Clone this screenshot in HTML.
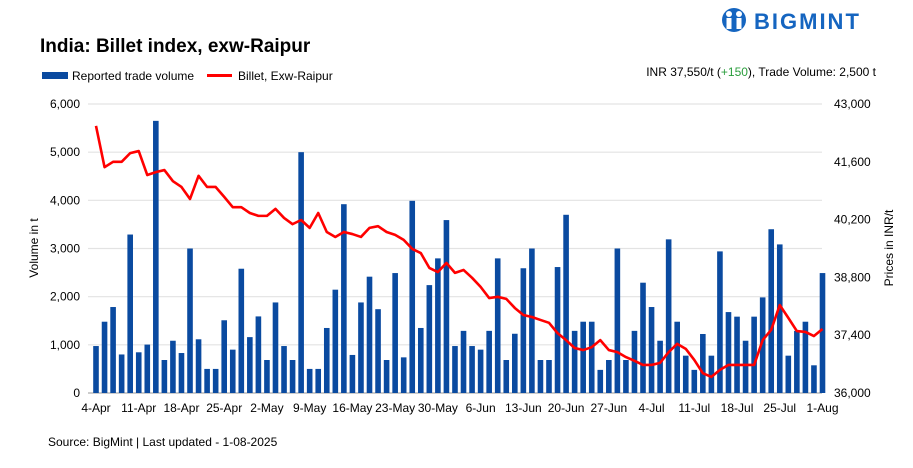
<!DOCTYPE html>
<html><head><meta charset="utf-8"><style>
body{margin:0;background:#fff;width:913px;height:463px;overflow:hidden;font-family:"Liberation Sans",sans-serif}
svg text{font-family:"Liberation Sans",sans-serif}
</style></head><body>
<svg id="chart" width="913" height="463" xmlns="http://www.w3.org/2000/svg">
<g>
<circle cx="734" cy="20" r="12" fill="#1565c0"/>
<circle cx="729" cy="14" r="3" fill="#fff"/><circle cx="739" cy="14" r="3" fill="#fff"/>
<rect x="726.5" y="18" width="5" height="11" fill="#fff"/><rect x="736.5" y="18" width="5" height="11" fill="#fff"/>
<text x="754" y="29" font-size="22" font-weight="bold" fill="#1565c0" letter-spacing="2">BIGMINT</text>
</g>
<text x="40" y="52" font-size="19" font-weight="bold" fill="#000">India: Billet index, exw-Raipur</text>
<g>
<rect x="42" y="72" width="26" height="7" fill="#0a4aa0"/>
<text x="72" y="80" font-size="12">Reported trade volume</text>
<line x1="207" y1="75.5" x2="232" y2="75.5" stroke="#f00" stroke-width="3"/>
<text x="238" y="80" font-size="12">Billet, Exw-Raipur</text>
</g>
<text x="876" y="76" font-size="12" text-anchor="end">INR 37,550/t (<tspan fill="#2a9d3c">+150</tspan>), Trade Volume: 2,500 t</text>
<text transform="translate(38,248) rotate(-90)" font-size="12" text-anchor="middle">Volume in t</text>
<text transform="translate(893,248) rotate(-90)" font-size="12" text-anchor="middle">Prices in INR/t</text>
<text x="48" y="446" font-size="12">Source: BigMint | Last updated - 1-08-2025</text>
<g id="grid"></g><g id="bars"></g><g id="line"></g><g id="axes"></g>
</svg>
<script>
const volumes=[975,1480,1785,800,3290,845,1005,5650,685,1085,830,3000,1115,500,500,1510,900,2580,1160,1590,685,1880,975,685,5000,500,500,1350,2145,3920,790,1880,2415,1740,685,2490,740,3990,1350,2240,2795,3590,975,1290,975,900,1290,2795,685,1230,2590,3000,685,685,2615,3700,1290,1480,1480,480,685,3000,685,1290,2290,1785,1085,3190,1480,775,480,1225,775,2940,1680,1585,1085,1585,1985,3400,3085,775,1290,1480,575,2490];
const prices=[42470,41470,41600,41600,41810,41860,41280,41350,41400,41130,40990,40700,41260,40990,40990,40750,40500,40500,40360,40290,40290,40460,40240,40090,40190,40000,40360,39900,39780,39900,39850,39780,40000,40040,39900,39830,39710,39490,39390,39030,38930,39150,38910,38980,38790,38570,38300,38330,38280,38060,37890,37840,37770,37700,37450,37280,37090,37040,37110,37280,37040,36990,36870,36780,36680,36680,36730,36990,37190,37070,36800,36480,36390,36560,36680,36680,36680,36680,37280,37530,38130,37820,37500,37480,37380,37550];
const xLabels=["4-Apr","11-Apr","18-Apr","25-Apr","2-May","9-May","16-May","23-May","30-May","6-Jun","13-Jun","20-Jun","27-Jun","4-Jul","11-Jul","18-Jul","25-Jul","1-Aug"];
const leftTicks=[0,1000,2000,3000,4000,5000,6000];
const rightTicks=[36000,37400,38800,40200,41600,43000];
const NS="http://www.w3.org/2000/svg";
const X0=96,X1=822.5,Y0=393,Y1=104;
const n=volumes.length;
const x=i=>X0+(X1-X0)*i/(n-1);
const yL=v=>Y0-(Y0-Y1)*v/6000;
const yR=v=>Y0-(Y0-Y1)*(v-36000)/7000;
function mk(tag,attrs,parent){const e=document.createElementNS(NS,tag);for(const k in attrs)e.setAttribute(k,attrs[k]);document.getElementById(parent).appendChild(e);return e;}
leftTicks.forEach((t,i)=>{
 const g=mk('line',{x1:88,x2:822,y1:yL(t),y2:yL(t),stroke:i==0?'#999':'#e3e3e3','stroke-width':i==0?1:1.2},'grid');
 
 
 const tx=mk('text',{x:80,y:yL(t)+4,'font-size':12,'text-anchor':'end'},'axes');tx.textContent=t.toLocaleString('en-US');
 
 
});
rightTicks.forEach(t=>{
 const tx=mk('text',{x:834,y:yR(t)+4,'font-size':12},'axes');tx.textContent=t.toLocaleString('en-US');
 
 
});
xLabels.forEach((l,k)=>{
 const tx=mk('text',{x:x(k*5),y:412,'font-size':12,'text-anchor':'middle'},'axes');tx.textContent=l;
 
 
});
volumes.forEach((v,i)=>{
 const b=mk('rect',{x:x(i)-2.8,y:yL(v),width:5.6,height:Y0-yL(v),fill:'#0a4aa0'},'bars');
 
 
});
const p=mk('polyline',{points:prices.map((v,i)=>x(i)+','+yR(v)).join(' '),fill:'none',stroke:'#f00','stroke-width':2.6,'stroke-linejoin':'round'},'line');


</script>
</body></html>
